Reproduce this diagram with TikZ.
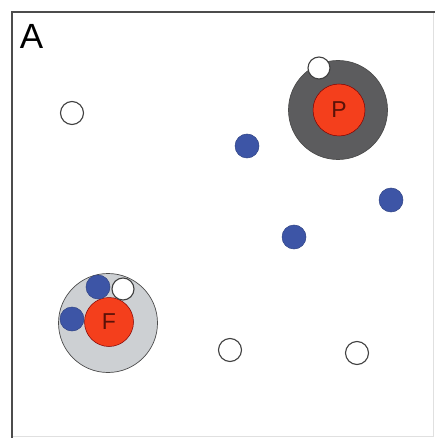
\documentclass[tikz,border=0pt]{standalone}
\usepackage{fontspec}
\setmainfont{Liberation Sans}
\definecolor{darkg}{HTML}{5C5C5E}
\definecolor{lightg}{HTML}{CDD0D3}
\definecolor{redc}{HTML}{F43F1C}
\definecolor{bluec}{HTML}{3D55A6}
\definecolor{letterc}{HTML}{5A1208}
\begin{document}
\begin{tikzpicture}[x=1pt,y=-1pt,
  openc/.style={circle,draw=black!75,line width=1.1pt,fill=white,minimum size=22pt,inner sep=0pt},
  bluedot/.style={circle,draw=bluec!80!black,line width=0.5pt,fill=bluec,minimum size=24pt,inner sep=0pt},
  redcore/.style={circle,draw=red!50!black,line width=0.5pt,fill=redc,inner sep=0pt,text=letterc,font=\fontsize{23}{23}\selectfont},
  halo/.style={circle,draw=black!70,line width=0.7pt,inner sep=0pt,minimum size=99pt}]
\useasboundingbox (0,0) rectangle (435,438);
\fill[white] (0,0) rectangle (435,438);
% frame
\draw[black!12,line width=0.8pt] (12,436) -- (433,436) -- (433,12);
\draw[black!70,line width=1.3pt] (12,438) -- (12,12) -- (435,12);
\node[font=\fontsize{35}{35}\selectfont,inner sep=0pt] (lab) at (31.5,36) {A};
% P cluster
\node[halo,fill=darkg] (ph) at (338,110) {};
\node[redcore,minimum size=52pt] (p) at (339,110) {P};
\node[openc] (pw) at (319,68) {};
% F cluster
\node[halo,fill=lightg] (fh) at (108,323) {};
\node[redcore,minimum size=49pt] (f) at (109,322) {F};
\node[bluedot] (fb1) at (98,287) {};
\node[bluedot] (fb2) at (72,319) {};
\node[openc] (fw) at (123,289) {};
% free
\node[openc,minimum size=23pt] (o1) at (72,113) {};
\node[openc,minimum size=23pt] (o2) at (230,350) {};
\node[openc,minimum size=23pt] (o3) at (357,353) {};
\node[bluedot] (b1) at (247,146) {};
\node[bluedot] (b2) at (391,200) {};
\node[bluedot] (b3) at (294,237) {};
\end{tikzpicture}
\end{document}
